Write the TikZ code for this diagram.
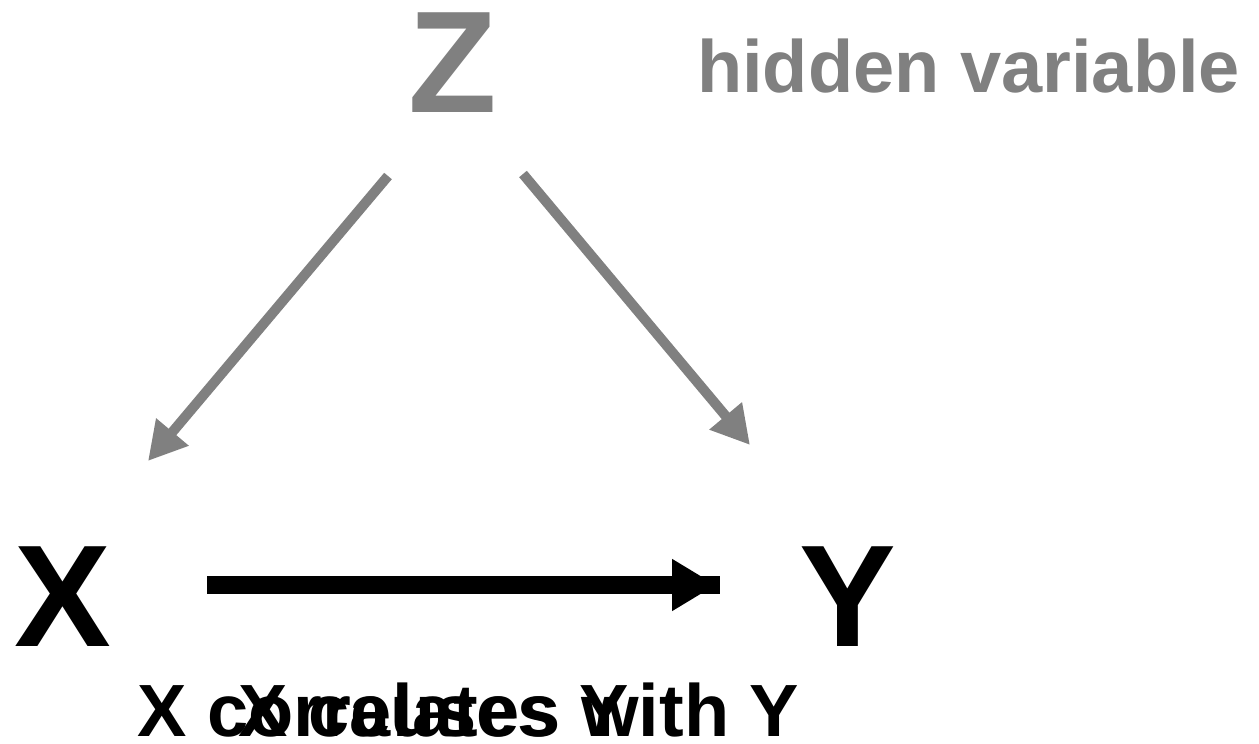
\documentclass[tikz,border=0pt]{standalone}
\usepackage{fontspec}
\setmainfont{Liberation Sans}
\usetikzlibrary{arrows.meta}
\definecolor{hid}{RGB}{128,128,128}
\tikzset{
  big/.style={inner sep=0pt, anchor=base, font=\bfseries\fontsize{145}{145}\selectfont},
  lbl/.style={inner sep=0pt, anchor=base west, font=\bfseries\fontsize{74}{74}\selectfont},
  hidarrow/.style={draw=hid, line width=10pt, -{Triangle[length=38pt,width=40pt]}, color=hid},
  mainarrow/.style={draw=black, line width=18pt, -{Triangle[length=44pt,width=49pt]}}
}
\begin{document}
\begin{tikzpicture}[x=1pt,y=-1pt]
\useasboundingbox (0,0) rectangle (1259,744);
\node[big, text=hid] (Z) at (452.5,112) {Z};
\node[lbl, text=hid] (hv) at (697,92) {hidden variable};
\node[big] (X) at (62.5,646) {X};
\node[big] (Y) at (847.5,646) {Y};
\node[lbl] (t1) at (137,736) {X correlates with Y};
\node[lbl] (t2) at (238,736) {X causes Y};
\coordinate (zx0) at (388,176);
\coordinate (zx1) at (148,461);
\coordinate (zy0) at (523,174);
\coordinate (zy1) at (750,445);
\coordinate (a0) at (207,585);
\coordinate (a1) at (716,585);
\coordinate (a2) at (720,585);
\draw[hidarrow] (zx0) -- (zx1);
\draw[hidarrow] (zy0) -- (zy1);
\draw[mainarrow] (a0) -- (a1);
\draw[line width=18pt] (690,585) -- (a2);
\end{tikzpicture}
\end{document}
